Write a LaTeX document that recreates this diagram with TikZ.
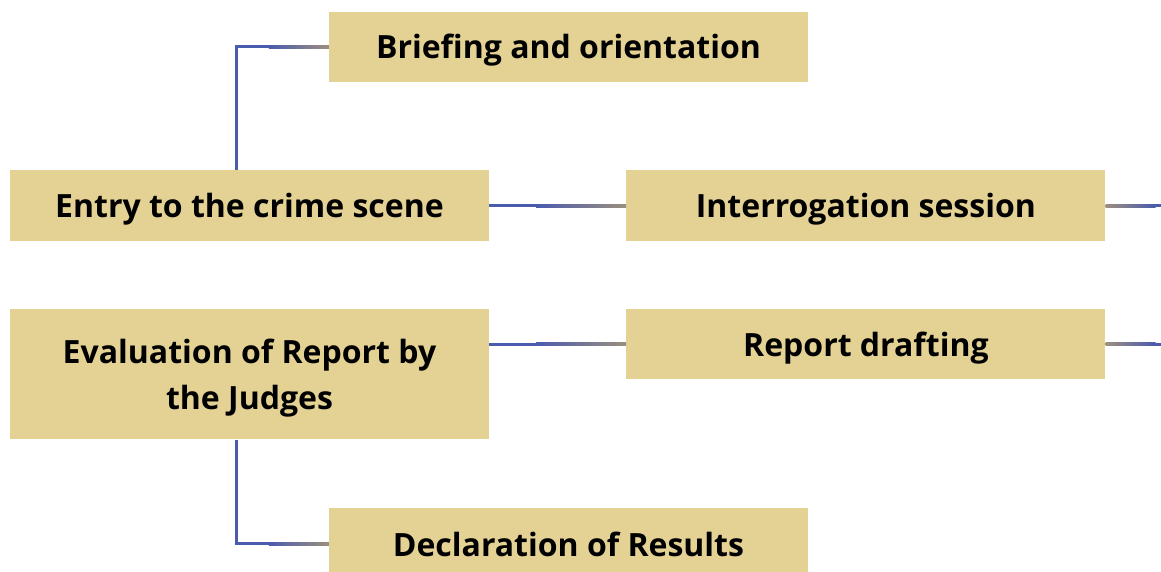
\documentclass[tikz,border=0pt]{standalone}
\usepackage{fontspec}
\setmainfont{Open Sans}
\usetikzlibrary{positioning, calc}
\definecolor{boxtan}{HTML}{E4D295}
\definecolor{linkblue}{HTML}{4B5BAE}
\definecolor{linkgrey}{HTML}{9C8F7E}
\tikzset{
stage/.style = {rectangle, fill = boxtan, inner sep = 0pt, minimum width = 479pt,
   minimum height = 70pt, align = center, text depth = 0pt,
   font = \fontsize{32}{46}\selectfont\bfseries},
link/.style = {draw = linkblue, line width = 3pt},
fadein/.style = {left color = linkblue, right color = linkgrey},
fadeout/.style = {left color = linkgrey, right color = linkblue}
}
\begin{document}
\begin{tikzpicture}[x = 1pt, y = -1pt]
\useasboundingbox (0,0) rectangle (1161,571);
\clip (0,0) rectangle (1161,571);

%% Stages
\node [stage, minimum height = 71pt] (Entry) at (249.5,205.5) {Entry to the crime scene};
\node [stage] (Brief) [above = 88pt of Entry, xshift = 319pt] {Briefing and orientation};
\node [stage, minimum height = 71pt] (Interrog) [right = 137pt of Entry] {Interrogation session};
\node [stage] (Report) [below = 68pt of Interrog] {Report drafting};
\node [stage, minimum height = 130pt] (Eval) [below = 68pt of Entry]
   {Evaluation of Report by\\the Judges};
\node [stage, minimum height = 72pt] (Decl) [below = 68pt of Eval, xshift = 319pt]
   {Declaration of Results};

%% Turning points
\coordinate (upT) at ($(Entry.north)+(-13.5,0)$);
\coordinate (downT) at ($(Eval.south)+(-13.5,0)$);
\coordinate (turnR) at ($(Interrog.east)+(100,0)$);

%% Connectors
\draw [link] (upT) |- (Brief.west);
\draw [link] (Entry.east) -- (Interrog.west);
\draw [link] (Interrog.east) -- (turnR) |- (Report.east);
\draw [link] (Report.west) -- (Eval.east |- Report.west);
\draw [link] (downT) |- (Decl.west);

%% Faded ends
\shade [fadein] ($(Brief.west)+(-60,-1.5)$) rectangle ($(Brief.west)+(0,1.5)$);
\shade [fadein] ($(Interrog.west)+(-90,-1.5)$) rectangle ($(Interrog.west)+(0,1.5)$);
\shade [fadeout] ($(Interrog.east)+(0,-1.5)$) rectangle ($(Interrog.east)+(50,1.5)$);
\shade [fadein] ($(Report.west)+(-90,-1.5)$) rectangle ($(Report.west)+(0,1.5)$);
\shade [fadeout] ($(Report.east)+(0,-1.5)$) rectangle ($(Report.east)+(50,1.5)$);
\shade [fadein] ($(Decl.west)+(-60,-1.5)$) rectangle ($(Decl.west)+(0,1.5)$);

\end{tikzpicture}
\end{document}
